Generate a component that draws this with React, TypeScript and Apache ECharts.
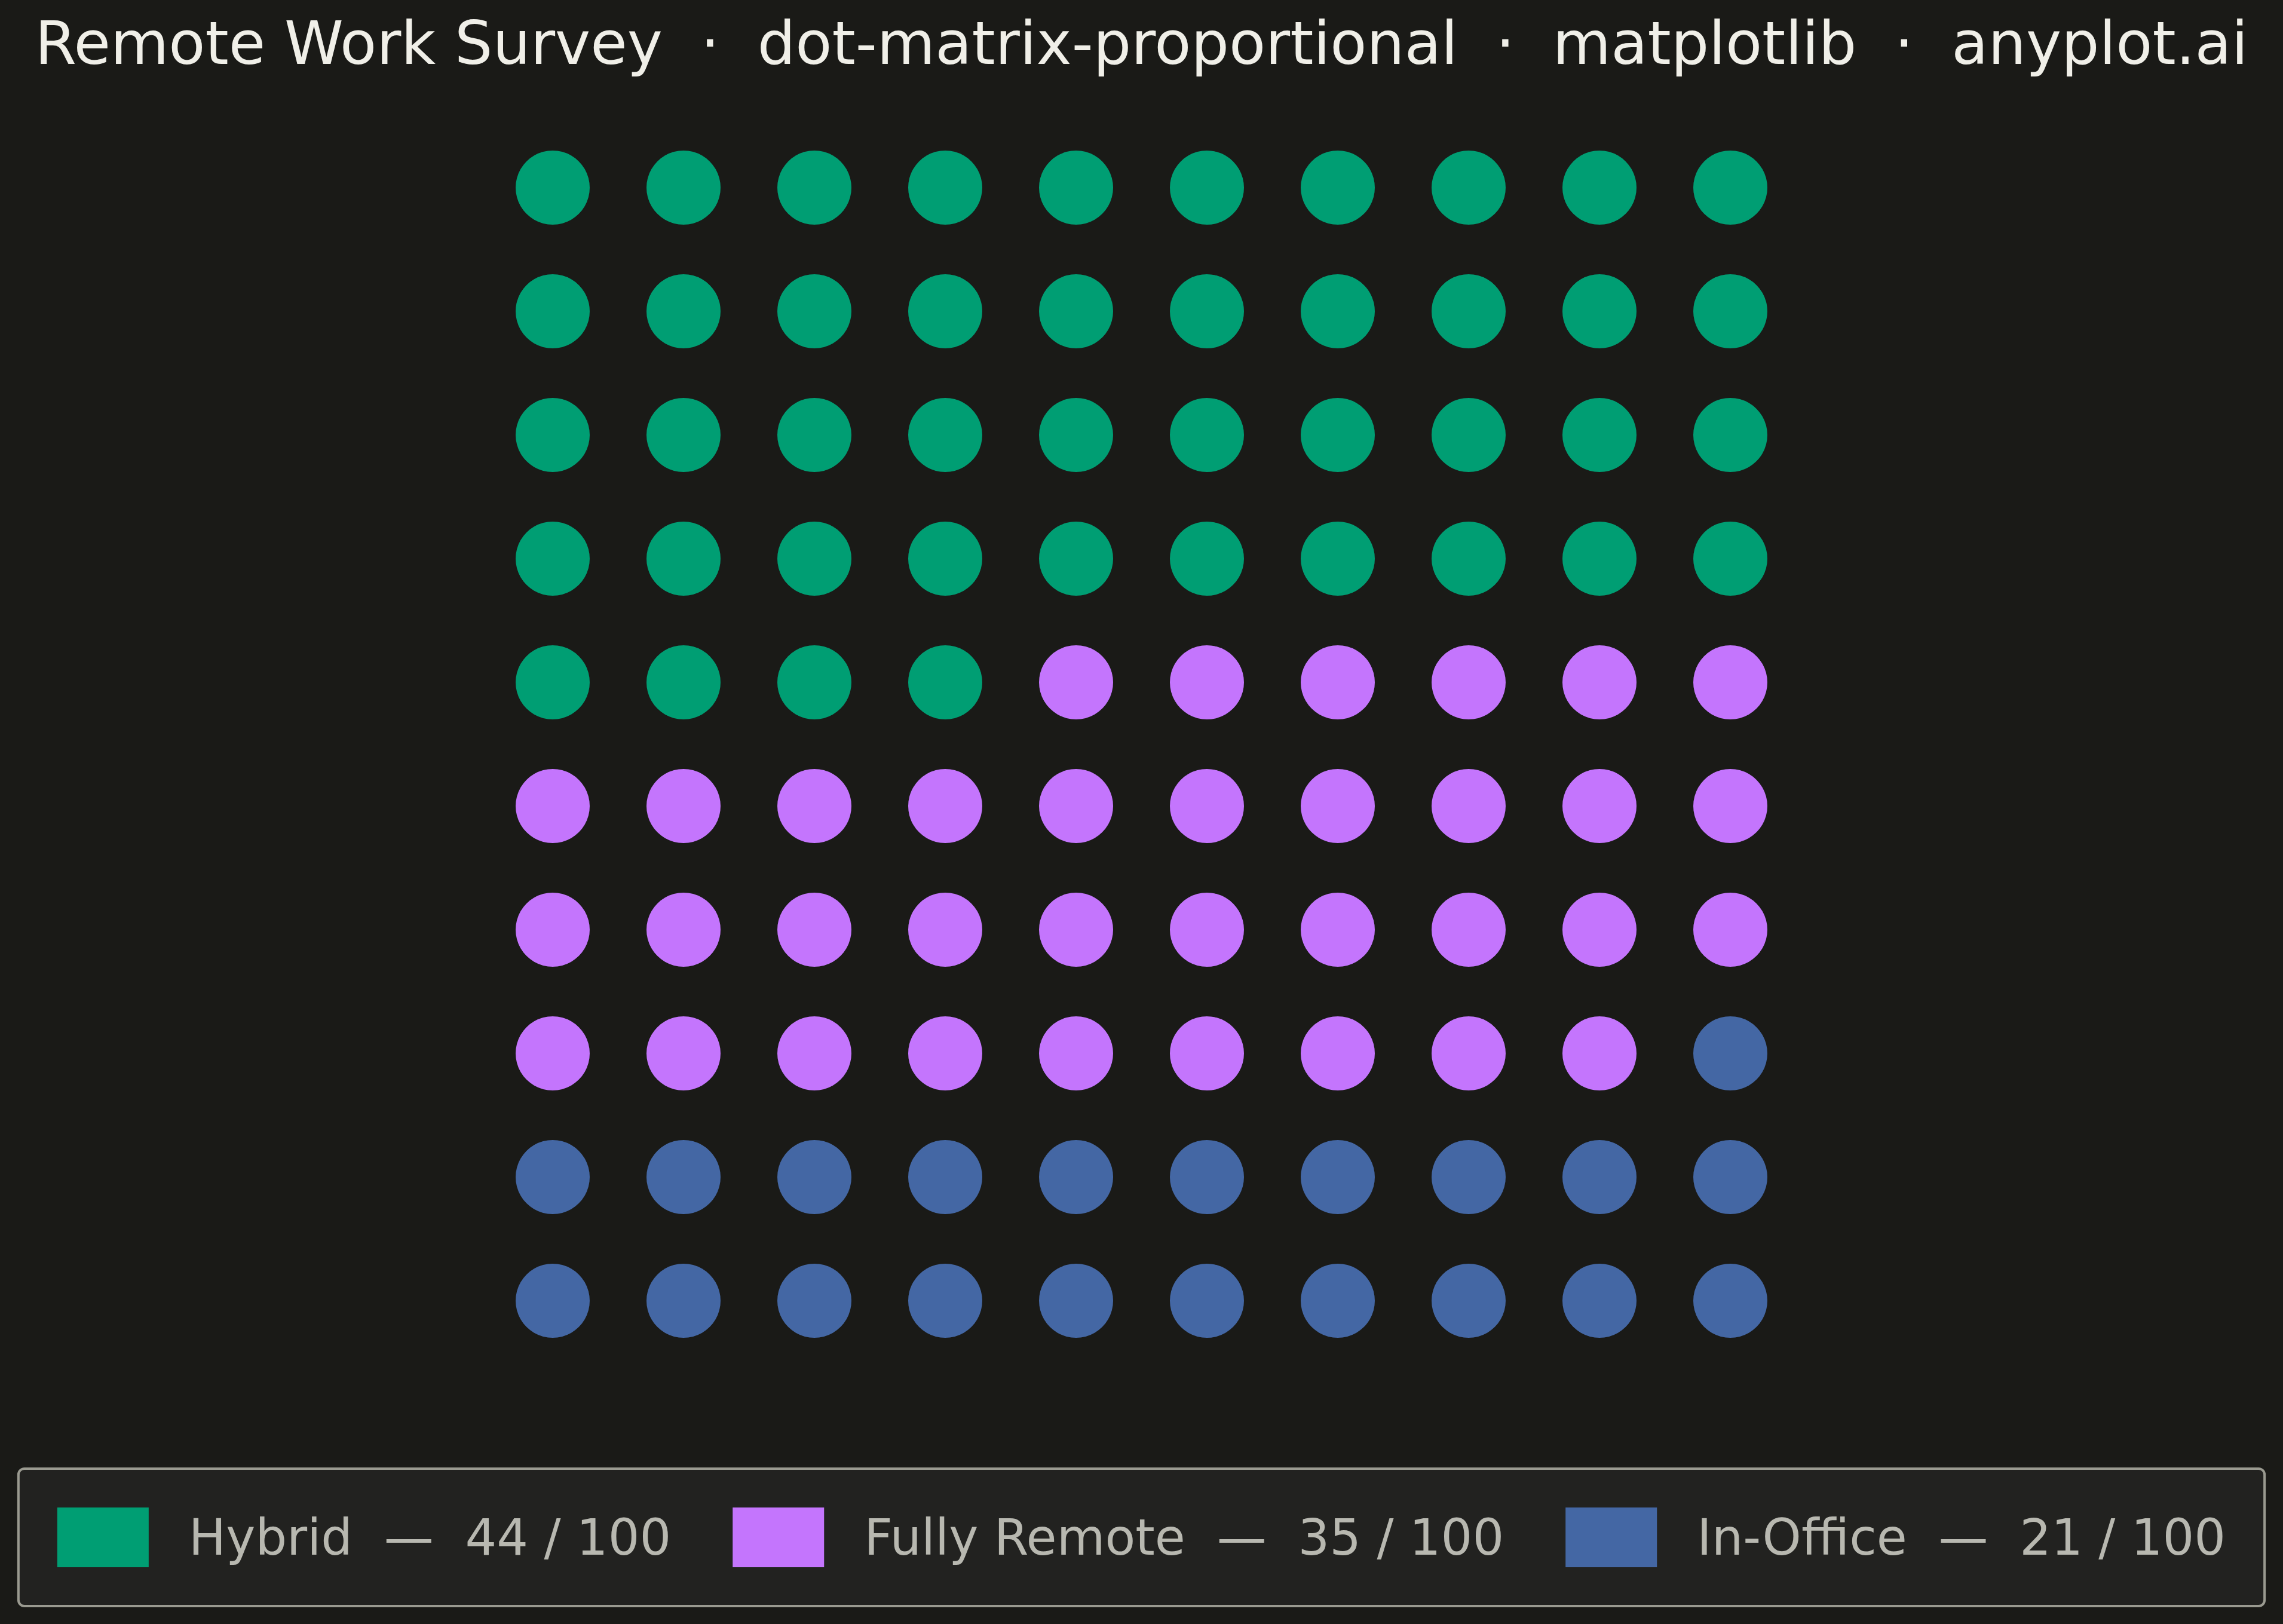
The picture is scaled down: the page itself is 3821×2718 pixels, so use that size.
import React, { useEffect, useRef } from "react";
import * as echarts from "echarts";

const CATEGORIES = ["Hybrid", "Fully Remote", "In-Office"];
const COUNTS = [44, 35, 21];
const TOTAL = 100;
const COLUMNS = 10;
const ROWS = 10;
const COLORS = ["#009E73", "#C475FD", "#4467A4"];
const TITLE = "Remote Work Survey  ·  dot-matrix-proportional  ·  matplotlib  ·  anyplot.ai";

const W = 3821;
const H = 2718;

function buildSeries() {
  let start = 0;
  return CATEGORIES.map((name, k) => {
    const pts: number[][] = [];
    for (let i = start; i < start + COUNTS[k]; i++) {
      pts.push([i % COLUMNS, Math.floor(i / COLUMNS)]);
    }
    start += COUNTS[k];
    return {
      name,
      type: "scatter",
      symbol: "circle",
      symbolSize: 124,
      data: pts,
      itemStyle: { color: COLORS[k], opacity: 1 },
      emphasis: { disabled: true },
      silent: true,
    };
  });
}

export default function App() {
  const ref = useRef<HTMLDivElement>(null);
  useEffect(() => {
    document.body.style.margin = "0";
    document.body.style.background = "#1A1A17";
    const chart = echarts.init(ref.current!, null, { renderer: "svg", width: W, height: H });
    const countByName: Record<string, number> = {};
    CATEGORIES.forEach((c, i) => (countByName[c] = COUNTS[i]));
    chart.setOption({
      animation: false,
      backgroundColor: "#1A1A17",
      title: {
        text: TITLE,
        left: "center",
        top: 22,
        padding: 0,
        textStyle: {
          color: "#F0EFE8",
          fontSize: 100,
          fontWeight: "normal",
          fontFamily: "DejaVu Sans",
        },
      },
      grid: { left: 925, right: 925, top: 314, bottom: H - 2177 },
      xAxis: { type: "value", min: 0, max: COLUMNS - 1, show: false },
      yAxis: { type: "value", min: 0, max: ROWS - 1, inverse: true, show: false },
      legend: {
        data: CATEGORIES,
        left: "center",
        top: 2458,
        orient: "horizontal",
        icon: "rect",
        itemWidth: 153,
        itemHeight: 100,
        itemGap: 103,
        padding: 65,
        backgroundColor: "#222220",
        borderColor: "#9A9A90",
        borderWidth: 4,
        borderRadius: 10,
        selectedMode: false,
        formatter: (name: string) => `${name}  —  ${countByName[name]} / ${TOTAL}`,
        textStyle: {
          color: "#B8B8B0",
          fontSize: 83,
          fontFamily: "DejaVu Sans",
          padding: [0, 0, 0, 62],
        },
      },
      series: buildSeries(),
    });
    return () => chart.dispose();
  }, []);
  return <div ref={ref} style={{ width: W, height: H, position: "absolute", left: 0, top: 0 }} />;
}
